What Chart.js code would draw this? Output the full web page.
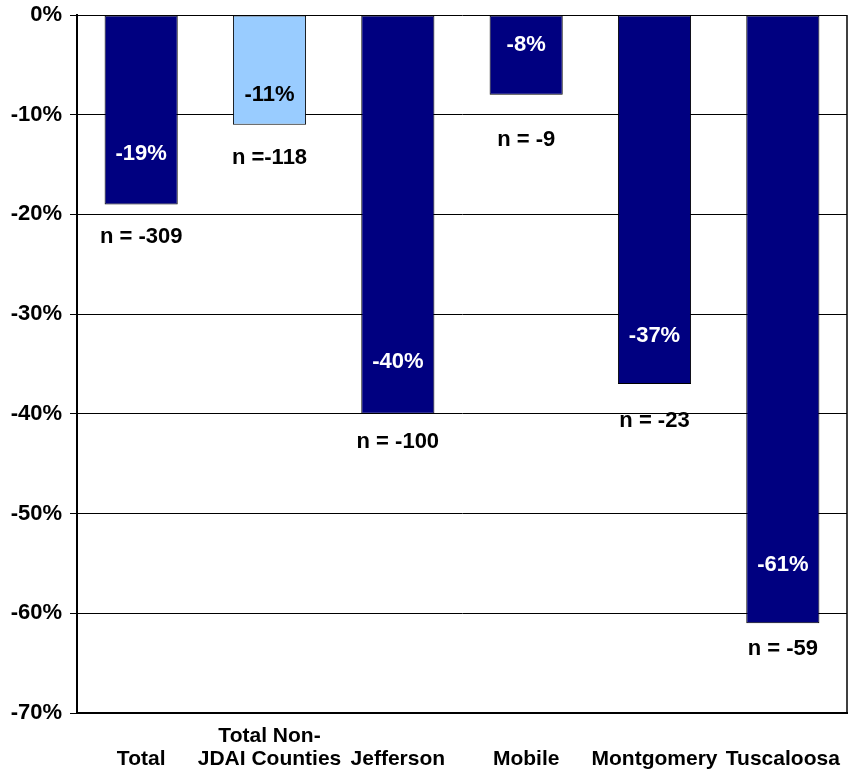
<!DOCTYPE html>
<html>
<head>
<meta charset="utf-8">
<script src="https://cdn.jsdelivr.net/npm/chart.js@4/dist/chart.umd.min.js"></script>
<style>
  html, body { margin: 0; padding: 0; background: #fff; }
  #wrap { width: 850px; height: 770px; position: relative; }
</style>
</head>
<body>
<div id="wrap"><canvas id="chart" width="850" height="770"></canvas></div>
<script>
// Change in detention admissions by site
const categories = [
  ['', 'Total'],
  ['Total Non-', 'JDAI Counties'],
  ['', 'Jefferson'],
  ['', 'Mobile'],
  ['', 'Montgomery'],
  ['', 'Tuscaloosa']
];
const percentChange = [-19, -11, -40, -8, -37, -61];
const countChange = [-309, -118, -100, -9, -23, -59];
const countPrefix = ['n = ', 'n =', 'n = ', 'n = ', 'n = ', 'n = '];
const yTicks = [0, -10, -20, -30, -40, -50, -60, -70];

const NAVY = '#000080';
const LIGHT = '#99CCFF';
const barColors = percentChange.map((_, i) => i === 1 ? LIGHT : NAVY);
const FONT = 'bold 22px "Liberation Sans", Arial, sans-serif';

// label placement relative to the end of each bar (pixels)
const pctLift = [51, 30, 52, 50, 48, 58];
const countDrop = [32, 33, 28, 45, 37, 26];

const barLabels = {
  id: 'barLabels',
  afterDatasetsDraw(chart) {
    const ctx = chart.ctx;
    const meta = chart.getDatasetMeta(0);
    ctx.save();
    ctx.font = FONT;
    ctx.textAlign = 'center';
    ctx.textBaseline = 'middle';
    meta.data.forEach((bar, i) => {
      const endY = bar.y;
      ctx.fillStyle = i === 1 ? '#000' : '#fff';
      ctx.fillText(percentChange[i] + '%', bar.x, endY - pctLift[i]);
      ctx.fillStyle = '#000';
      ctx.fillText(countPrefix[i] + countChange[i], bar.x, endY + countDrop[i]);
    });
    ctx.restore();
  }
};

const frame = {
  id: 'frame',
  afterDraw(chart) {
    const { ctx, chartArea: a } = chart;
    ctx.save();
    ctx.strokeStyle = '#000';
    ctx.lineWidth = 1.5;
    ctx.beginPath();
    ctx.moveTo(a.right, a.top);
    ctx.lineTo(a.right, a.bottom);
    ctx.stroke();
    ctx.restore();
  }
};

new Chart(document.getElementById('chart'), {
  type: 'bar',
  data: {
    labels: categories,
    datasets: [{
      data: percentChange,
      backgroundColor: barColors,
      borderColor: '#000',
      borderWidth: 1,
      borderSkipped: false,
      categoryPercentage: 1,
      barPercentage: 0.57
    }]
  },
  options: {
    responsive: false,
    animation: false,
    devicePixelRatio: 1,
    layout: { padding: { top: 15, right: 3, left: 0, bottom: 0 } },
    plugins: {
      legend: { display: false },
      tooltip: { enabled: false }
    },
    scales: {
      x: {
        grid: { display: false },
        border: { display: true, color: '#000', width: 2 },
        ticks: {
          color: '#000',
          font: { family: '"Liberation Sans", Arial, sans-serif', size: 21, weight: 'bold', lineHeight: 1.12 },
          padding: 3,
          maxRotation: 0,
          autoSkip: false
        },
        afterFit(scale) { scale.height = 57; scale.paddingLeft = 0; scale.paddingRight = 0; }
      },
      y: {
        min: -70,
        max: 0,
        afterBuildTicks(scale) { scale.ticks = yTicks.map(v => ({ value: v })); },
        grid: { color: '#000', lineWidth: 1, drawTicks: true, tickLength: 7 },
        border: { display: true, color: '#000', width: 2 },
        ticks: {
          color: '#000',
          font: { family: '"Liberation Sans", Arial, sans-serif', size: 22, weight: 'bold' },
          padding: 8,
          callback: v => v + '%'
        },
        afterFit(scale) { scale.width = 77; scale.paddingTop = 0; scale.paddingBottom = 0; }
      }
    }
  },
  plugins: [barLabels, frame]
});
</script>
</body>
</html>
